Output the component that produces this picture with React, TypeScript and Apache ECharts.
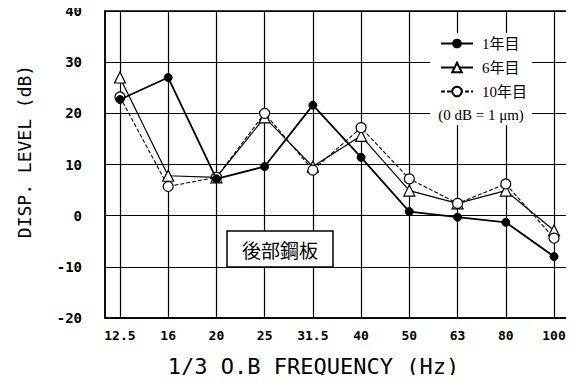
import React, { useEffect, useRef } from "react";
import * as echarts from "echarts";

// 1/3 octave band centre frequencies (Hz)
const FREQS = ["12.5", "16", "20", "25", "31.5", "40", "50", "63", "80", "100"];

// Displacement level (dB, 0 dB = 1 μm) per year of service
const YEAR1 = [22.7, 27.0, 7.2, 9.6, 21.6, 11.4, 0.8, -0.3, -1.3, -8.0];
const YEAR6 = [27.0, 7.8, 7.5, 19.2, 9.6, 15.6, 4.9, 2.4, 4.9, -2.9];
const YEAR10 = [23.2, 5.7, 7.5, 20.0, 8.9, 17.2, 7.2, 2.4, 6.2, -4.4];

const SERIES_NAMES = ["1年目", "6年目", "10年目"];
const Y_TICKS = { min: -20, max: 40, interval: 10 };

const MONO = "'DejaVu Sans Mono', 'Liberation Mono', monospace";
const SERIF = "'Liberation Serif', 'Noto Sans CJK JP', serif";
const JP = "'Noto Sans CJK JP', sans-serif";

const toPairs = (vals: number[]) => vals.map((v, i) => [i, v]);

export default function App() {
  const ref = useRef<HTMLDivElement>(null);

  useEffect(() => {
    if (!ref.current) return;
    const chart = echarts.init(ref.current, null, { renderer: "svg" });
    const idx = FREQS.map((_, i) => i);

    chart.setOption({
      animation: false,
      backgroundColor: "#fff",
      grid: {
        left: 105,
        right: 6,
        top: 11,
        bottom: 65,
        show: true,
        borderColor: "#000",
        borderWidth: 1.5,
      },
      xAxis: {
        type: "value",
        min: -0.31,
        max: FREQS.length - 1 + 0.29,
        name: "1/3 O.B FREQUENCY (Hz)",
        nameLocation: "middle",
        nameGap: 37,
        nameTextStyle: {
          fontFamily: MONO,
          fontSize: 22,
          color: "#000",
          padding: [0, 46, 0, 0],
        },
        axisLine: { show: true, onZero: false, lineStyle: { color: "#000", width: 1.5 } },
        axisTick: { show: false },
        splitLine: { show: false },
        axisLabel: {
          customValues: idx,
          formatter: (v: number) => FREQS[Math.round(v)] ?? "",
          fontFamily: MONO,
          fontWeight: "bold",
          fontSize: 13,
          color: "#000",
          margin: 11,
        },
      },
      yAxis: {
        type: "value",
        min: Y_TICKS.min,
        max: Y_TICKS.max,
        interval: Y_TICKS.interval,
        name: "DISP. LEVEL (dB)",
        nameLocation: "middle",
        nameGap: 72,
        nameRotate: 90,
        nameTextStyle: {
          fontFamily: MONO,
          fontSize: 18,
          color: "#000",
          padding: [0, 0, 0, 26],
        },
        axisLine: { show: true, onZero: false, lineStyle: { color: "#000", width: 1.5 } },
        axisTick: { show: false },
        splitLine: { show: true, lineStyle: { color: "#000", width: 1.2 } },
        axisLabel: {
          fontFamily: MONO,
          fontWeight: "bold",
          fontSize: 14,
          color: "#000",
          margin: 23,
        },
      },
      legend: {
        data: SERIES_NAMES,
        orient: "vertical",
        left: 438,
        top: 34,
        itemWidth: 32,
        itemHeight: 12,
        itemGap: 9,
        padding: 2,
        z: 8,
        textStyle: {
          fontFamily: SERIF,
          fontSize: 15,
          color: "#000",
          padding: [0, 0, 0, 4],
        },
      },
      series: [
        {
          name: SERIES_NAMES[0],
          type: "line",
          data: toPairs(YEAR1),
          symbol: "circle",
          symbolSize: 8,
          itemStyle: { color: "#000", borderColor: "#000" },
          lineStyle: { color: "#000", width: 1.8 },
          z: 4,
          markLine: {
            silent: true,
            symbol: "none",
            label: { show: false },
            lineStyle: { color: "#000", width: 1.2, type: "solid" },
            data: idx.map((i) => ({ xAxis: i })),
            z: 1,
          },
        },
        {
          name: SERIES_NAMES[1],
          type: "line",
          data: toPairs(YEAR6),
          symbol: "triangle",
          symbolSize: 11,
          itemStyle: { color: "#fff", borderColor: "#000", borderWidth: 1.2 },
          lineStyle: { color: "#000", width: 1.2 },
          z: 3,
        },
        {
          name: SERIES_NAMES[2],
          type: "line",
          data: toPairs(YEAR10),
          symbol: "circle",
          symbolSize: 10,
          itemStyle: { color: "#fff", borderColor: "#000", borderWidth: 1.2 },
          lineStyle: { color: "#000", width: 1.1, type: [4, 2] },
          z: 3,
        },
      ],
      graphic: [
        {
          type: "rect",
          z: 7,
          shape: { x: 430, y: 33, width: 102, height: 92 },
          style: { fill: "#fff" },
        },
        {
          type: "text",
          z: 8,
          x: 481,
          y: 115,
          style: {
            text: "(0 dB = 1 μm)",
            fontFamily: SERIF,
            fontSize: 15,
            fill: "#000",
            align: "center",
            verticalAlign: "middle",
          },
        },
        {
          type: "group",
          z: 7,
          children: [
            {
              type: "rect",
              z: 7,
              shape: { x: 227, y: 231, width: 106, height: 36 },
              style: { fill: "#fff", stroke: "#000", lineWidth: 1.5 },
            },
            {
              type: "text",
              z: 8,
              x: 280,
              y: 249,
              style: {
                text: "後部鋼板",
                fontFamily: JP,
                fontSize: 19,
                fill: "#000",
                align: "center",
                verticalAlign: "middle",
              },
            },
          ],
        },
      ],
    });

    return () => chart.dispose();
  }, []);

  return <div ref={ref} style={{ width: 574, height: 383, margin: -8 }} />;
}
